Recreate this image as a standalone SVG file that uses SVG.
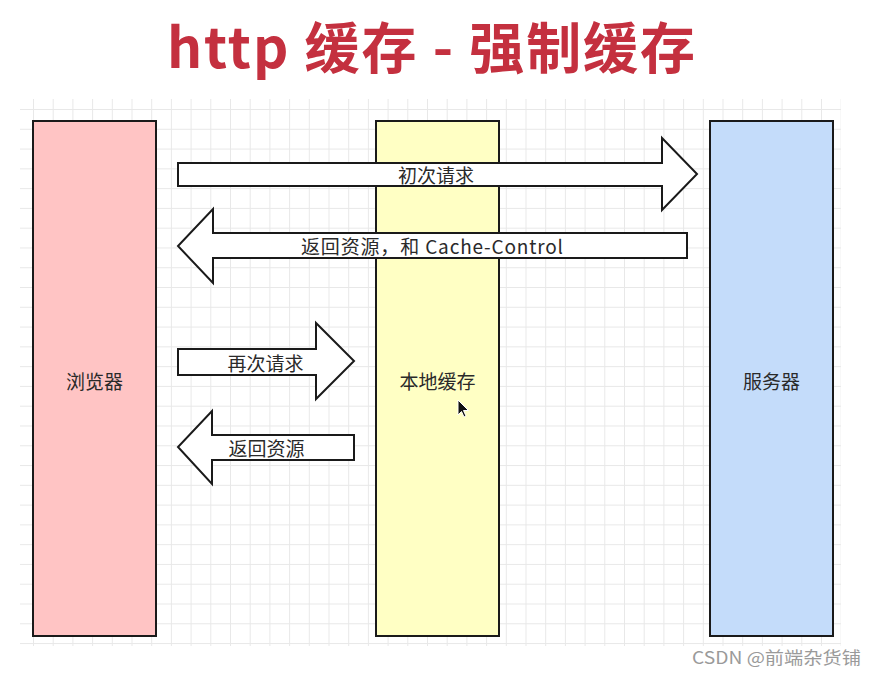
<svg xmlns="http://www.w3.org/2000/svg" width="877" height="676" viewBox="0 0 877 676">
  <defs>
    <pattern id="grid" patternUnits="userSpaceOnUse" x="33" y="109" width="19.7" height="19.78">
      <path d="M0.5,0 V19.78 M0,0.5 H19.7" fill="none" stroke="#e8e8e8" stroke-width="1"/>
    </pattern>
    <style>
      .box { stroke: #1a1a1a; stroke-width: 2; }
      .arrow { fill: #ffffff; stroke: #1a1a1a; stroke-width: 2; stroke-linejoin: miter; }
      .lbl { font-family: "Noto Sans CJK SC", "Noto Sans", sans-serif; font-size: 19px; fill: #2a2a2a; text-anchor: middle; dominant-baseline: central; }
      .title { font-family: "Noto Sans CJK SC", "Noto Sans", sans-serif; font-size: 55px; font-weight: bold; fill: #c4303f; }
      .wm { font-family: "Noto Sans CJK SC", "Liberation Sans", sans-serif; font-size: 17px; fill: #9a9a9a; }
    </style>
  </defs>
  <rect width="877" height="676" fill="#ffffff"/>
  <rect x="20" y="99" width="821" height="547" fill="url(#grid)"/>

  <text class="title" x="167" y="68" textLength="528" lengthAdjust="spacing">http 缓存 - 强制缓存</text>

  <g id="browser">
    <rect class="box" x="33" y="121" width="123" height="515" fill="#ffc4c4"/>
    <text class="lbl" x="94.5" y="380">浏览器</text>
  </g>
  <g id="local-cache">
    <rect class="box" x="376" y="121" width="123" height="515" fill="#ffffc4"/>
    <text class="lbl" x="437.5" y="380">本地缓存</text>
  </g>
  <g id="server">
    <rect class="box" x="710" y="121" width="123" height="515" fill="#c4dcfa"/>
    <text class="lbl" x="771.5" y="380">服务器</text>
  </g>

  <g id="connectors">
    <g id="first-request">
      <path class="arrow" d="M178,163 H662 V138 L697,174 L662,210 V186 H178 Z"/>
      <text class="lbl" x="436" y="174.5">初次请求</text>
    </g>
    <g id="return-cache-control">
      <path class="arrow" d="M687,233 H213 V209 L178,246 L213,283 V258 H687 Z"/>
      <text class="lbl" x="432" y="245.5" textLength="262" lengthAdjust="spacing">返回资源，和 Cache-Control</text>
    </g>
    <g id="second-request">
      <path class="arrow" d="M178,349 H316 V323 L354,361 L316,399 V375 H178 Z"/>
      <text class="lbl" x="265.5" y="362">再次请求</text>
    </g>
    <g id="return-resource">
      <path class="arrow" d="M354,435 H212 V411 L178,447 L212,484 V460 H354 Z"/>
      <text class="lbl" x="266.5" y="447">返回资源</text>
    </g>
  </g>

  <path d="M458,400 V415 L461.5,411.5 L464,417 L466,416 L463.5,410.5 H468.5 Z" fill="#111" stroke="#fff" stroke-width="1"/>

  <text class="wm" x="692" y="664" textLength="169" lengthAdjust="spacingAndGlyphs">CSDN @前端杂货铺</text>
</svg>
